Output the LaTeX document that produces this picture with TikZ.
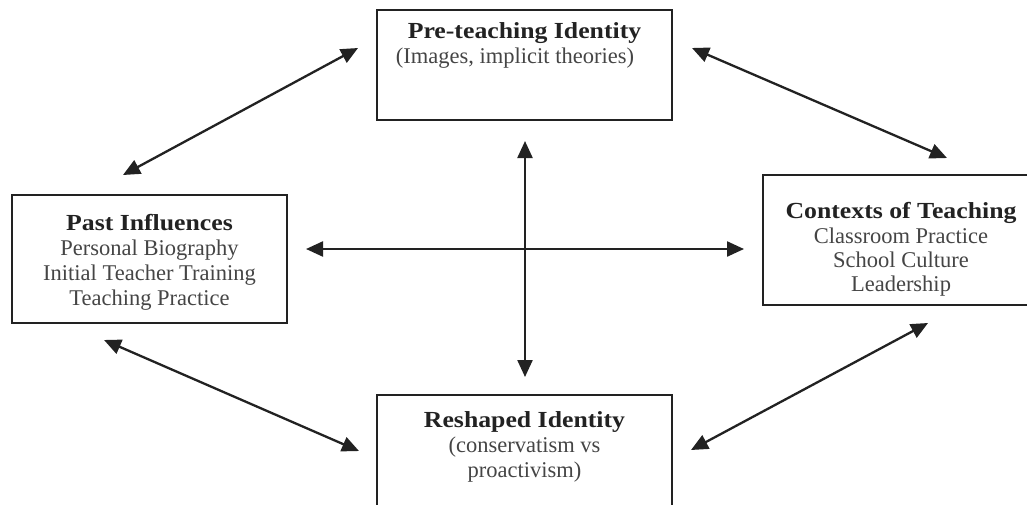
\documentclass[tikz,border=0pt]{standalone}
\usepackage{fontspec}
\setmainfont{Liberation Serif}
\usetikzlibrary{arrows.meta}
\definecolor{ink}{HTML}{222222}
\definecolor{subink}{HTML}{454545}
\newcommand{\wx}[1]{\scalebox{1.12}[1]{#1}}
\tikzset{
  box/.style={draw=ink, line width=2pt, fill=none, inner sep=0pt, outer sep=0pt, anchor=north west},
  ttl/.style={anchor=base, text=ink, font=\fontsize{23}{25}\selectfont\bfseries, inner sep=0pt},
  subtxt/.style={anchor=base, text=subink, font=\fontsize{22.5}{25}\selectfont, inner sep=0pt},
  link/.style={draw=ink, line width=2.3pt, {Triangle[length=17pt,width=15pt]}-{Triangle[length=17pt,width=15pt]}}
}
\begin{document}
\begin{tikzpicture}[x=1pt,y=-1pt]
\clip (0,0) rectangle (1027,504);
\fill[white] (0,0) rectangle (1027,504);
% boxes
\node[box, minimum width=295pt, minimum height=110pt] (pre) at (377,10) {};
\node[box, minimum width=275pt, minimum height=128pt] (past) at (12,195) {};
\node[box, minimum width=272pt, minimum height=130pt] (ctx) at (763,175) {};
\node[box, minimum width=295pt, minimum height=120pt] (resh) at (377,395) {};
% texts
\node[ttl] (preA) at (524.5,38) {\wx{Pre-teaching Identity}};
\node[subtxt] (preB) at (515,63) {(Images, implicit theories)};
\node[ttl] (pastA) at (149.5,230) {\wx{Past Influences}};
\node[subtxt] (pastB) at (149.5,255) {Personal Biography};
\node[subtxt] (pastC) at (149.5,280) {Initial Teacher Training};
\node[subtxt] (pastD) at (149.5,305) {Teaching Practice};
\node[ttl] (ctxA) at (901,218) {\wx{Contexts of Teaching}};
\node[subtxt] (ctxB) at (901,243) {Classroom Practice};
\node[subtxt] (ctxC) at (901,267) {School Culture};
\node[subtxt] (ctxD) at (901,291) {Leadership};
\node[ttl] (reshA) at (524.5,427) {\wx{Reshaped Identity}};
\node[subtxt] (reshB) at (524.5,452) {(conservatism vs};
\node[subtxt] (reshC) at (524.5,477) {proactivism)};
% arrow ends
\coordinate (a1s) at (123,175); \coordinate (a1e) at (358,48);
\coordinate (a2s) at (692,48);  \coordinate (a2e) at (947,158);
\coordinate (a3s) at (525,141); \coordinate (a3e) at (525,377);
\coordinate (a4s) at (306,249); \coordinate (a4e) at (744,249);
\coordinate (a5s) at (104,340); \coordinate (a5e) at (359,451);
\coordinate (a6s) at (928,323); \coordinate (a6e) at (691,450);
\draw[link] (a1s) -- (a1e);
\draw[link] (a2s) -- (a2e);
\draw[link] (a3s) -- (a3e);
\draw[link] (a4s) -- (a4e);
\draw[link] (a5s) -- (a5e);
\draw[link] (a6s) -- (a6e);
\end{tikzpicture}
\end{document}
